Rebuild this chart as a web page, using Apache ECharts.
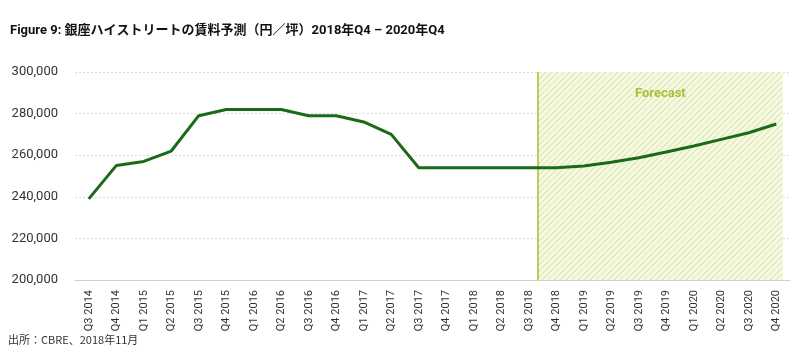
<!DOCTYPE html>
<html><head><meta charset="utf-8">
<script src="https://cdn.jsdelivr.net/npm/echarts@6/dist/echarts.min.js"></script>
<style>html,body{margin:0;padding:0;background:#fff}#c{width:800px;height:362px}</style>
</head><body><div id="c"></div>
<script>
const categories = ['Q3 2014','Q4 2014','Q1 2015','Q2 2015','Q3 2015','Q4 2015','Q1 2016','Q2 2016','Q3 2016','Q4 2016','Q1 2017','Q2 2017','Q3 2017','Q4 2017','Q1 2018','Q2 2018','Q3 2018','Q4 2018','Q1 2019','Q2 2019','Q3 2019','Q4 2019','Q1 2020','Q2 2020','Q3 2020','Q4 2020'];
const rent = [239000,255000,257000,262000,279000,282000,282000,282000,279000,279000,276000,270000,254000,254000,254000,254000,254000,254000,254800,256600,258800,261500,264400,267600,270800,275000];
const forecastStart = 16.33;
const forecastEnd = 25.24;
const yTicks = {min:200000, max:300000, interval:20000};
const titleText = 'Figure 9: 銀座ハイストリートの賃料予測（円／坪）2018年Q4 – 2020年Q4';
const sourceText = '出所：CBRE、2018年11月';

const narrow = 'Roboto,"Noto Sans CJK JP",sans-serif';

// hatch pattern
const pc = document.createElement('canvas');
pc.width = 6; pc.height = 6;
const g = pc.getContext('2d');
g.fillStyle = '#f6f9e4'; g.fillRect(0,0,6,6);
g.strokeStyle = '#dde7ae'; g.lineWidth = 1.2;
g.beginPath();
g.moveTo(-1,7); g.lineTo(7,-1);
g.moveTo(-1,1); g.lineTo(1,-1);
g.moveTo(5,7); g.lineTo(7,5);
g.stroke();

const chart = echarts.init(document.getElementById('c'));
chart.setOption({
  animation:false,
  title:{text:titleText,left:5,top:19,textStyle:{fontFamily:narrow,fontWeight:'bold',fontSize:13,color:'#111'}},
  graphic:[{type:'text',left:8,top:334,style:{text:sourceText,font:'11px "Noto Sans CJK JP",sans-serif',fill:'#333'}}],
  grid:{left:75,right:10,top:72,bottom:82},
  xAxis:[{type:'category',data:categories,boundaryGap:true,
    axisLine:{lineStyle:{color:'#d0d0d0',width:1}},axisTick:{show:false},
    axisLabel:{rotate:90,interval:0,margin:10,fontFamily:narrow,fontSize:11,color:'#333'}},
    {type:'value',min:-0.5,max:25.5,show:false}],
  yAxis:{type:'value',min:yTicks.min,max:yTicks.max,interval:yTicks.interval,
    axisLine:{show:false},axisTick:{show:false},
    axisLabel:{margin:17,fontFamily:narrow,fontSize:13,color:'#333',formatter:v=>v.toLocaleString('en-US')},
    splitLine:{lineStyle:{color:'#dcdcdc',type:[2,2],width:1}}},
  series:[
    {type:'line',xAxisIndex:1,data:[],silent:true,
     markArea:{silent:true,itemStyle:{color:{image:pc,repeat:'repeat'}},
       label:{show:true,position:'insideTop',distance:15,formatter:'Forecast',fontFamily:narrow,fontWeight:'bold',fontSize:13,color:'#a6c23c'},
       data:[[{xAxis:forecastStart},{xAxis:forecastEnd}]]},
     markLine:{silent:true,symbol:'none',label:{show:false},lineStyle:{color:'#b9d05a',width:2,type:'solid'},
       data:[{xAxis:forecastStart}]}},
    {type:'line',data:rent,symbol:'none',lineStyle:{color:'#1b6a18',width:3},z:5}
  ]
});
</script></body></html>
